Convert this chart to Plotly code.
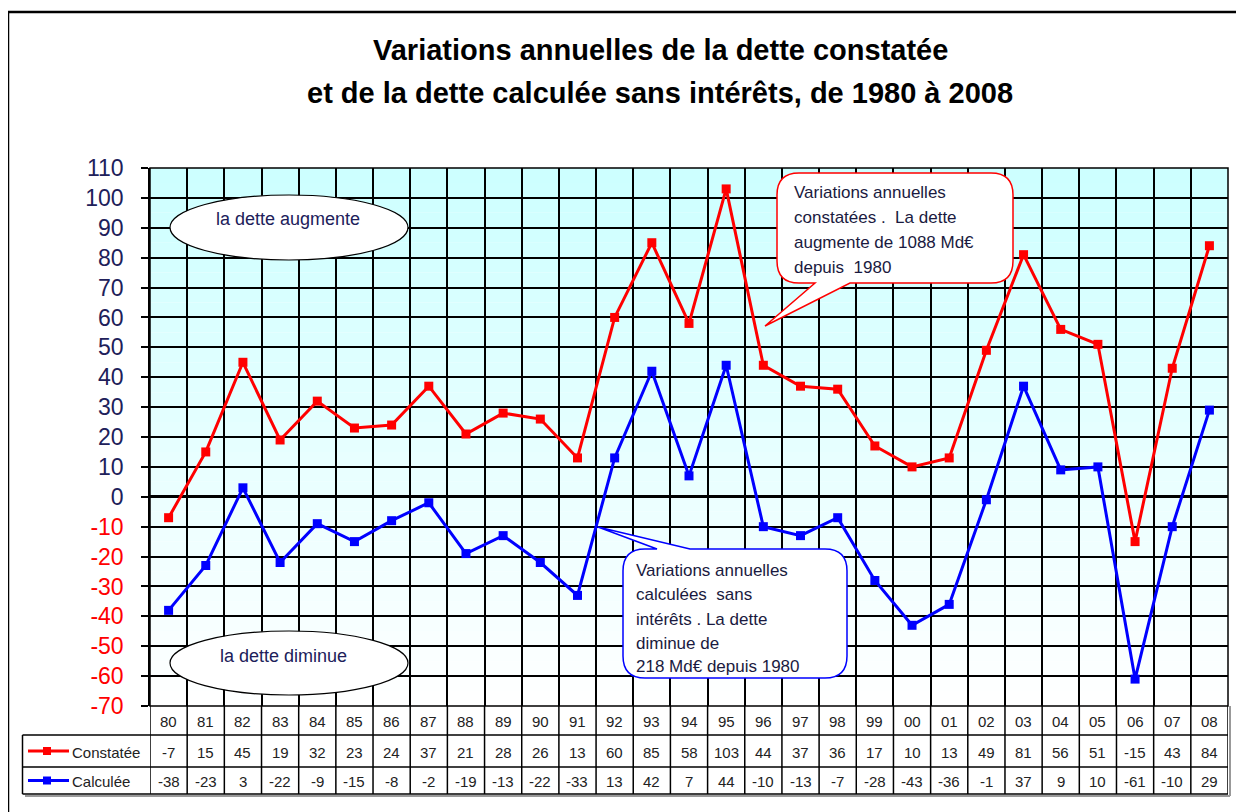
import plotly.graph_objects as go

years = ["80", "81", "82", "83", "84", "85", "86", "87", "88", "89", "90", "91", "92", "93", "94",
         "95", "96", "97", "98", "99", "00", "01", "02", "03", "04", "05", "06", "07", "08"]
constatee = [-7, 15, 45, 19, 32, 23, 24, 37, 21, 28, 26, 13, 60, 85, 58,
             103, 44, 37, 36, 17, 10, 13, 49, 81, 56, 51, -15, 43, 84]
calculee = [-38, -23, 3, -22, -9, -15, -8, -2, -19, -13, -22, -33, 13, 42, 7,
            44, -10, -13, -7, -28, -43, -36, -1, 37, 9, 10, -61, -10, 29]
y_ticks = list(range(-70, 111, 10))
series_names = ["Constatée", "Calculée"]

title_lines = ["Variations annuelles de la dette constatée",
               "et de la dette calculée sans intérêts, de 1980 à 2008"]
red_note = ["Variations annuelles", "constatées .  La dette", "augmente de 1088 Md€", "depuis  1980"]
blue_note = ["Variations annuelles", "calculées  sans", "intérêts . La dette", "diminue de", "218 Md€ depuis 1980"]

# ---------------- layout geometry (window pixels) ----------------
OFF = 8                      # page body margin
WIN_W, WIN_H = 1244, 812
PL, PR, PT, PB = 150, 1228, 168, 706   # plot area in window pixels
W, H = WIN_W - OFF, WIN_H - OFF
L, T = PL - OFF, PT - OFF
R, B = WIN_W - PR, WIN_H - PB
PW, PH = PR - PL, PB - PT
YMIN, YMAX = y_ticks[0], y_ticks[-1]
n = len(years)
x = list(range(n))

FONT = "Liberation Sans, Arial, sans-serif"
RED, BLUE = "#FF0000", "#0000FF"
NAVY = "#20205A"


def pxx(p):  # window pixel x -> paper
    return (p - PL) / PW


def pxy(p):  # window pixel y -> paper
    return (PB - p) / PH


def dx(p):  # window pixel x -> data x
    return (p - PL) / PW * n - 0.5


def dy(p):  # window pixel y -> data y
    return YMAX - (p - PT) / PH * (YMAX - YMIN)


fig = go.Figure()
fig.add_trace(go.Scatter(x=x, y=constatee, mode="lines+markers", name=series_names[0],
                         line=dict(color=RED, width=3),
                         marker=dict(symbol="square", size=9, color=RED), showlegend=False))
fig.add_trace(go.Scatter(x=x, y=calculee, mode="lines+markers", name=series_names[1],
                         line=dict(color=BLUE, width=3),
                         marker=dict(symbol="square", size=9, color=BLUE), showlegend=False))

shapes = []
# background gradient (cyan at top to white at bottom)
steps = 36
for k in range(steps):
    y0 = YMIN + (YMAX - YMIN) * k / steps
    y1 = YMIN + (YMAX - YMIN) * (k + 1) / steps
    t = (k + 0.5) / steps
    r = int(round(255 - 51 * t))
    shapes.append(dict(type="rect", xref="paper", yref="y", x0=0, x1=1, y0=y0, y1=y1,
                       fillcolor=f"rgb({r},255,255)", line=dict(width=0), layer="below"))

# outer frame
shapes.append(dict(type="rect", xref="paper", yref="paper", x0=pxx(8), x1=pxx(1270),
                   y0=pxy(840), y1=pxy(12), line=dict(color="black", width=2.5)))
# plot border
shapes.append(dict(type="rect", xref="paper", yref="paper", x0=0, x1=1, y0=0, y1=1,
                   line=dict(color="black", width=1.5)))

# data table grid
row_b = [pxy(706), pxy(735), pxy(767), pxy(794)]
for i in range(n + 1):
    shapes.append(dict(type="line", xref="x", yref="paper", x0=i - 0.5, x1=i - 0.5,
                       y0=row_b[0], y1=row_b[3], line=dict(color="black", width=1.5)))
# shadow
shapes.append(dict(type="line", xref="paper", yref="paper", x0=1 + 2 / PW, x1=1 + 2 / PW,
                   y0=row_b[0], y1=row_b[3] - 2 / PH, line=dict(color="#999999", width=2)))
shapes.append(dict(type="line", xref="paper", yref="paper", x0=pxx(25), x1=1 + 2 / PW,
                   y0=row_b[3] - 2 / PH, y1=row_b[3] - 2 / PH, line=dict(color="#999999", width=2)))
for yb in row_b[1:]:
    shapes.append(dict(type="line", xref="paper", yref="paper", x0=pxx(22.5), x1=1,
                       y0=yb, y1=yb, line=dict(color="black", width=1.5)))
shapes.append(dict(type="line", xref="paper", yref="paper", x0=pxx(22.5), x1=pxx(22.5),
                   y0=row_b[1], y1=row_b[3], line=dict(color="black", width=1.5)))

# legend swatches inside the table
for j, col in enumerate([RED, BLUE]):
    yc = (row_b[j + 1] + row_b[j + 2]) / 2
    shapes.append(dict(type="line", xref="paper", yref="paper", x0=pxx(28), x1=pxx(69),
                       y0=yc, y1=yc, line=dict(color=col, width=3)))
    shapes.append(dict(type="rect", xref="paper", yref="paper", x0=pxx(43), x1=pxx(51),
                       y0=yc - 4 / PH, y1=yc + 4 / PH, fillcolor=col, line=dict(width=0)))

# ellipses
shapes.append(dict(type="circle", xref="x", yref="y", x0=dx(170), x1=dx(408),
                   y0=dy(260), y1=dy(195), fillcolor="white", line=dict(color="black", width=1.2)))
shapes.append(dict(type="circle", xref="x", yref="y", x0=dx(170), x1=dx(408),
                   y0=dy(695), y1=dy(631), fillcolor="white", line=dict(color="black", width=1.2)))


def callout(x0, y0, x1, y1, r, tail, tip, top=False):
    """Rounded rectangle with a pointer, given in window pixels, converted to data coords."""
    def P(a, b):
        return f"{dx(a):.4f},{dy(b):.4f}"
    d = f"M {P(x0 + r, y0)}"
    if top:
        d += f" L {P(tail[0], y0)} L {P(*tip)} L {P(tail[1], y0)}"
    d += f" L {P(x1 - r, y0)} Q {P(x1, y0)} {P(x1, y0 + r)}"
    d += f" L {P(x1, y1 - r)} Q {P(x1, y1)} {P(x1 - r, y1)}"
    if not top:
        d += f" L {P(tail[1], y1)} L {P(*tip)} L {P(tail[0], y1)}"
    d += f" L {P(x0 + r, y1)} Q {P(x0, y1)} {P(x0, y1 - r)}"
    d += f" L {P(x0, y0 + r)} Q {P(x0, y0)} {P(x0 + r, y0)} Z"
    return d


shapes.append(dict(type="path", xref="x", yref="y",
                   path=callout(777, 173, 1013, 283, 22, (815, 850), (765, 326)),
                   fillcolor="white", line=dict(color=RED, width=1.5)))
shapes.append(dict(type="path", xref="x", yref="y",
                   path=callout(623, 549, 847, 678, 22, (657, 690), (598, 527), top=True),
                   fillcolor="white", line=dict(color=BLUE, width=1.5)))

annotations = []
# title
for line, ypx in zip(title_lines, [50, 93]):
    annotations.append(dict(xref="paper", yref="paper", x=pxx(660), y=pxy(ypx), text=f"<b>{line}</b>",
                            showarrow=False, xanchor="center", yanchor="middle",
                            font=dict(family=FONT, size=29, color="black")))
# ellipse texts
annotations.append(dict(xref="paper", yref="paper", x=pxx(288), y=pxy(219), text="la dette augmente",
                        showarrow=False, xanchor="center", yanchor="middle",
                        font=dict(family=FONT, size=18, color=NAVY)))
annotations.append(dict(xref="paper", yref="paper", x=pxx(283), y=pxy(656), text="la dette diminue",
                        showarrow=False, xanchor="center", yanchor="middle",
                        font=dict(family=FONT, size=18, color=NAVY)))
# callout texts
for line, ypx in zip(red_note, [192, 217, 242, 267]):
    annotations.append(dict(xref="paper", yref="paper", x=pxx(792), y=pxy(ypx), text=line,
                            showarrow=False, xanchor="left", yanchor="middle",
                            font=dict(family=FONT, size=17, color="#1a1a40")))
for line, ypx in zip(blue_note, [570, 594, 619, 643, 666]):
    annotations.append(dict(xref="paper", yref="paper", x=pxx(634), y=pxy(ypx), text=line,
                            showarrow=False, xanchor="left", yanchor="middle",
                            font=dict(family=FONT, size=17, color="#1a1a40")))

# table texts
row_c = [pxy(721), pxy(752), pxy(781)]
for i in range(n):
    for rc, txt in zip(row_c, [years[i], str(constatee[i]), str(calculee[i])]):
        annotations.append(dict(xref="x", yref="paper", x=i, y=rc, text=txt, showarrow=False,
                                xanchor="center", yanchor="middle",
                                font=dict(family=FONT, size=15, color="#222222")))
for j, name in enumerate(series_names):
    annotations.append(dict(xref="paper", yref="paper", x=pxx(70), y=row_c[j + 1], text=name,
                            showarrow=False, xanchor="left", yanchor="middle",
                            font=dict(family=FONT, size=15, color="#222222")))

ticktext = [f'<span style="color:{RED if v < 0 else NAVY}">{v}</span>' for v in y_ticks]

fig.update_layout(
    width=W, height=H,
    margin=dict(l=L, r=R, t=T, b=B, pad=0),
    paper_bgcolor="white", plot_bgcolor="white",
    font=dict(family=FONT),
    shapes=shapes, annotations=annotations,
    showlegend=False,
    xaxis=dict(range=[-0.5, n - 0.5], tickmode="array", tickvals=[i - 0.5 for i in range(n + 1)],
               showticklabels=False, showgrid=True, gridcolor="black", gridwidth=1.5,
               zeroline=False, ticks="", showline=False, fixedrange=True),
    yaxis=dict(range=[YMIN, YMAX], tickmode="array", tickvals=y_ticks, ticktext=ticktext,
               showgrid=True, gridcolor="black", gridwidth=1.5,
               zeroline=True, zerolinecolor="black", zerolinewidth=3,
               showline=True, linecolor="black", linewidth=1.5,
               ticks="outside", ticklen=7, tickcolor="black", tickwidth=1.5,
               ticklabelstandoff=13,
               tickfont=dict(family=FONT, size=23, color=NAVY), fixedrange=True),
)

fig.write_html("out.html")
